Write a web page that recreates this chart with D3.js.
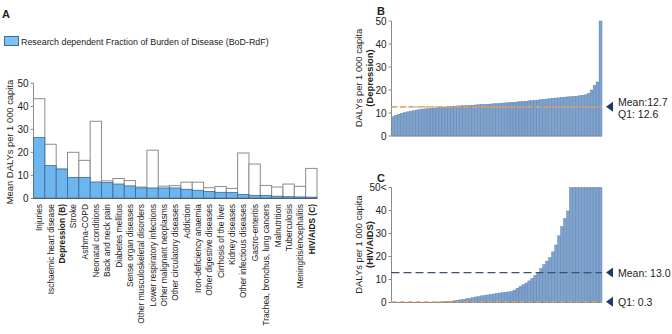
<!DOCTYPE html>
<html>
<head>
<meta charset="utf-8">
<script src="https://cdn.jsdelivr.net/npm/d3@7"></script>
<style>
  body { margin: 0; background: #fff; }
  svg { font-family: "Liberation Sans", Arial, sans-serif; }
</style>
</head>
<body>
<div id="chart"></div>
<script>
// Panel A: mean DALYs per 1 000 capita by disease
const diseases = ["Injuries", "Ischaemic heart disease", "Depression (B)", "Stroke", "Asthma-COPD",
  "Neonatal conditions", "Back and neck pain", "Diabetes mellitus", "Sense organ diseases",
  "Other musculoskeletal disorders", "Lower respiratory infections", "Other malignant neoplasms",
  "Other circulatory diseases", "Addiction", "Iron-deficiency anaemia", "Other digestive diseases",
  "Cirrhosis of the liver", "Kidney diseases", "Other infectious diseases", "Gastro-enteritis",
  "Trachea, bronchus, lung cancers", "Malnutrition", "Tuberculosis", "Meningitis/encephalitis", "HIV/AIDS (C)"];
const boldDiseases = ["Depression (B)", "HIV/AIDS (C)"];
const totalBoD = [43.3, 23.5, 12.7, 20.0, 16.5, 33.5, 7.6, 8.6, 7.7, 4.9, 20.9, 5.3, 5.5, 7.0, 7.0,
  4.6, 5.1, 4.3, 19.7, 14.9, 5.6, 4.9, 6.2, 5.2, 13.0];
const rdfBoD = [26.4, 14.2, 12.7, 9.1, 9.1, 7.1, 6.9, 6.2, 5.4, 4.5, 4.5, 4.5, 4.5, 3.9, 3.5,
  3.0, 2.6, 2.5, 1.7, 1.3, 1.3, 0.9, 0.7, 0.6, 0.5];
const ticksA = [0, 10, 20, 30, 40, 50];

// Panel B: Depression DALYs per country (sorted)
const depression = [8.4, 9.0, 9.5, 9.9, 10.2, 10.5, 10.8, 11.0, 11.3, 11.5, 11.7, 11.8, 11.9, 12.0,
  12.1, 12.3, 12.4, 12.5, 12.6, 12.8, 12.9, 13.0, 13.1, 13.1, 13.2, 13.3, 13.3, 13.4, 13.5, 13.6,
  13.7, 13.7, 13.8, 13.9, 14.0, 14.1, 14.2, 14.3, 14.4, 14.5, 14.6, 14.7, 14.8, 14.9, 15.0, 15.1,
  15.3, 15.4, 15.5, 15.6, 15.8, 15.9, 16.1, 16.2, 16.4, 16.5, 16.6, 16.8, 16.9, 17.0, 17.1, 17.2,
  17.3, 17.5, 17.7, 17.9, 18.6, 20.0, 22.0, 23.5, 50.0];
const depressionStats = { mean: 12.7, q1: 12.6 };
const depressionNotes = ["Mean:12.7", "Q1: 12.6"];

// Panel C: HIV/AIDS DALYs per country (sorted, capped at 50)
const hiv = [0, 0, 0, 0, 0, 0, 0, 0, 0, 0, 0, 0, 0, 0.1, 0.1, 0.2, 0.2, 0.3,
  0.4, 0.5, 0.6, 0.8, 1.0, 1.2, 1.4, 1.6, 1.8, 2.1, 2.4, 2.6, 2.9, 3.1, 3.3, 3.5, 3.7, 3.9,
  4.1, 4.3, 4.5, 4.6, 4.8, 5.4, 6.2, 7.0, 7.7, 8.5, 9.4, 10.5, 11.8, 12.9, 14.8, 16.5, 18.0,
  19.5, 22.0, 25.0, 29.0, 33.0, 36.5, 39.8, 50, 50, 50, 50, 50, 50, 50, 50, 50, 50, 50];
const hivStats = { mean: 13.0, q1: 0.3 };
const hivNotes = ["Mean: 13.0", "Q1: 0.3"];
const ticksCLabels = ["0", "10", "20", "30", "40", "50<"];

const W = 672, H = 334;
const textColor = "#222";
const axisColor = "#8a8a8a";
const blue = "#6cb5ef";
const blueStroke = "#3d6a94";
const steel = "#7ea3cf";
const steelStroke = "#5b7ca6";
const orange = "#d9a066";
const navy = "#1f3a68";

const svg = d3.select("#chart").append("svg")
  .attr("width", W).attr("height", H);

function yAxis(g, y, x0, labels){
  g.append("line")
    .attr("x1", x0).attr("x2", x0)
    .attr("y1", y.range()[0]).attr("y2", y.range()[1])
    .attr("stroke", axisColor);
  const t = g.selectAll("g.tick").data(ticksA).enter().append("g").attr("class", "tick");
  t.append("line")
    .attr("x1", x0 - 3).attr("x2", x0)
    .attr("y1", d => y(d)).attr("y2", d => y(d))
    .attr("stroke", axisColor);
  t.append("text")
    .attr("x", x0 - 5).attr("y", d => y(d) + 3.5)
    .attr("text-anchor", "end")
    .attr("fill", textColor)
    .style("font-size", "10px")
    .text((d, i) => labels ? labels[i] : d);
}

// ---------- Panel A ----------
const gA = svg.append("g");
gA.append("text").attr("x", 2).attr("y", 18).text("A")
  .style("font-size", "11px").style("font-weight", "bold").attr("fill", textColor);

gA.append("rect").attr("x", 4.5).attr("y", 36.5).attr("width", 14).attr("height", 9)
  .attr("fill", "#7cc2f6").attr("stroke", blueStroke);
gA.append("text").attr("x", 21).attr("y", 44.5)
  .text("Research dependent Fraction of Burden of Disease (BoD-RdF)")
  .style("font-size", "8.9px").attr("fill", textColor);

const xA = d3.scaleBand().domain(diseases).range([33.5, 317]).padding(0);
const yA = d3.scaleLinear().domain([0, 50]).range([198.3, 83.3]);

yAxis(gA, yA, 33.5);

gA.selectAll("rect.total").data(diseases).enter().append("rect")
  .attr("class", "total")
  .attr("x", d => xA(d)).attr("width", xA.bandwidth())
  .attr("y", (d, i) => yA(totalBoD[i]))
  .attr("height", (d, i) => yA(0) - yA(totalBoD[i]))
  .attr("fill", "#fff").attr("stroke", "#8c8c8c").attr("stroke-width", 1);

gA.selectAll("rect.rdf").data(diseases).enter().append("rect")
  .attr("class", "rdf")
  .attr("x", d => xA(d)).attr("width", xA.bandwidth())
  .attr("y", (d, i) => yA(rdfBoD[i]))
  .attr("height", (d, i) => yA(0) - yA(rdfBoD[i]))
  .attr("fill", blue).attr("stroke", blueStroke).attr("stroke-width", 0.8);

gA.append("line").attr("x1", 33.5).attr("x2", 317)
  .attr("y1", yA(0)).attr("y2", yA(0)).attr("stroke", "#555");

gA.selectAll("text.cat").data(diseases).enter().append("text")
  .attr("class", "cat")
  .attr("transform", d => "translate(" + (xA(d) + xA.bandwidth() / 2 + 3.2) + "," + 204 + ") rotate(-90)")
  .attr("text-anchor", "end")
  .style("font-size", "8.4px")
  .style("font-weight", d => boldDiseases.includes(d) ? "bold" : "normal")
  .attr("fill", textColor)
  .text(d => d);

gA.append("text")
  .attr("transform", "translate(13,142) rotate(-90)")
  .attr("text-anchor", "middle")
  .style("font-size", "9.4px").attr("fill", textColor)
  .text("Mean DALYs per 1 000 capita");

// ---------- Panels B and C ----------
function countryPanel(values, stats, notes, top, letter, name, tickLabels, meanColor, meanDash){
  const g = svg.append("g");
  const y = d3.scaleLinear().domain([0, 50]).range([top + 115, top]);
  const x = d3.scaleBand().domain(d3.range(values.length)).range([391.5, 602]).padding(0);

  g.append("text").attr("x", 377).attr("y", top - 6).text(letter)
    .style("font-size", "11px").style("font-weight", "bold").attr("fill", textColor);

  g.selectAll("rect.bar").data(values).enter().append("rect")
    .attr("class", "bar")
    .attr("x", (d, i) => x(i)).attr("width", x.bandwidth())
    .attr("y", d => y(Math.min(d, 50)))
    .attr("height", d => y(0) - y(Math.min(d, 50)))
    .attr("fill", steel).attr("stroke", steelStroke).attr("stroke-width", 0.4);

  yAxis(g, y, 391.5, tickLabels);
  g.append("line").attr("x1", 391.5).attr("x2", 602)
    .attr("y1", y(0)).attr("y2", y(0)).attr("stroke", axisColor);

  g.append("line").attr("x1", 391.5).attr("x2", 602)
    .attr("y1", y(stats.q1)).attr("y2", y(stats.q1))
    .attr("stroke", orange).attr("stroke-width", 1.2).attr("stroke-dasharray", "5,3");
  g.append("line").attr("x1", 391.5).attr("x2", 602)
    .attr("y1", y(stats.mean)).attr("y2", y(stats.mean))
    .attr("stroke", meanColor).attr("stroke-width", 1.2).attr("stroke-dasharray", meanDash);

  const marks = letter === "B" ? [stats.mean] : [stats.mean, stats.q1];
  marks.forEach(v => {
    const yy = y(v);
    g.append("path")
      .attr("d", "M606," + yy + "L613," + (yy - 5) + "L613," + (yy + 5) + "Z")
      .attr("fill", navy);
  });

  if(letter === "B"){
    g.append("text").attr("x", 618).attr("y", y(stats.mean) - 1).text(notes[0])
      .style("font-size", "10.5px").attr("fill", textColor);
    g.append("text").attr("x", 618).attr("y", y(stats.mean) + 11).text(notes[1])
      .style("font-size", "10.5px").attr("fill", textColor);
  }else{
    g.append("text").attr("x", 618).attr("y", y(stats.mean) + 4).text(notes[0])
      .style("font-size", "10.5px").attr("fill", textColor);
    g.append("text").attr("x", 618).attr("y", y(stats.q1) + 4).text(notes[1])
      .style("font-size", "10.5px").attr("fill", textColor);
  }

  const lab = g.append("text")
    .attr("transform", "translate(362," + (top + 57) + ") rotate(-90)")
    .attr("text-anchor", "middle")
    .style("font-size", "9.4px").attr("fill", textColor);
  lab.append("tspan").attr("x", 0).attr("dy", 0).text("DALYs per 1 000 capita");
  lab.append("tspan").attr("x", 0).attr("dy", 10.5).style("font-weight", "bold").text(name);
}

countryPanel(depression, depressionStats, depressionNotes, 21, "B", "(Depression)", null, orange, "6,3");
countryPanel(hiv, hivStats, hivNotes, 187.5, "C", "(HIV/AIDS)", ticksCLabels, "#3c4f6e", "8,4");
</script>
</body>
</html>
